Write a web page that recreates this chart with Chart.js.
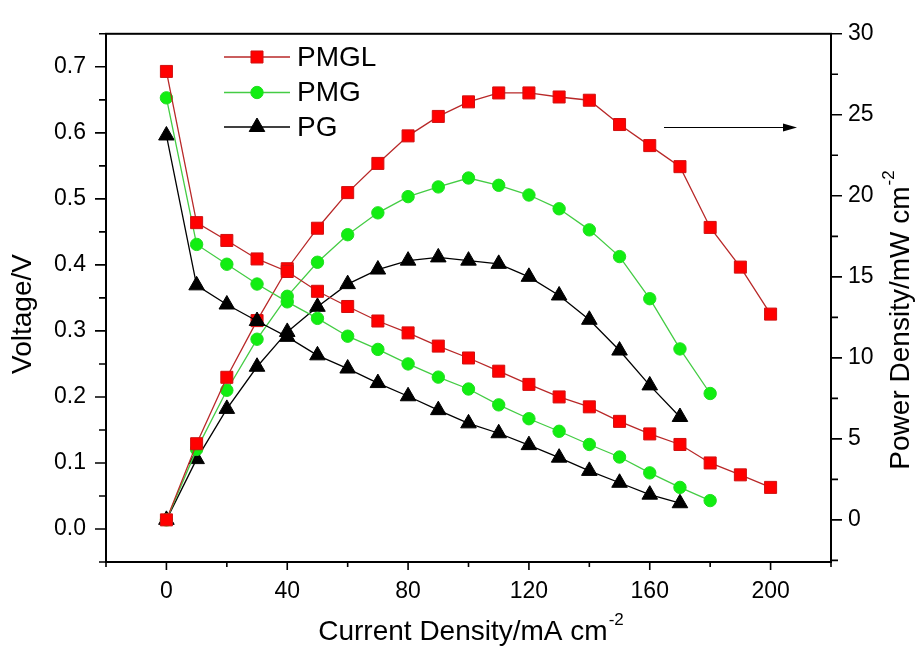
<!DOCTYPE html>
<html lang="en">
<head>
    <meta charset="UTF-8">
    <title>Voltage and Power Density vs Current Density</title>
    <script src="https://cdn.jsdelivr.net/npm/chart.js@4.4.0/dist/chart.umd.min.js"></script>
    <style>
        body { margin: 0; background: #fff; }
        canvas { display: block; }
    </style>
</head>
<body>
    <canvas id="chart" width="919" height="656"></canvas>

    <script>
        // Current density (mA cm-2) for each sample
        const pmglCurrent = [0, 10, 20, 30, 40, 50, 60, 70, 80, 90, 100, 110, 120, 130, 140, 150, 160, 170, 180, 190, 200];
        const pmgCurrent  = [0, 10, 20, 30, 40, 50, 60, 70, 80, 90, 100, 110, 120, 130, 140, 150, 160, 170, 180];
        const pgCurrent   = [0, 10, 20, 30, 40, 50, 60, 70, 80, 90, 100, 110, 120, 130, 140, 150, 160, 170];

        // Voltage (V), left axis
        const pmglVoltage = [0.693, 0.464, 0.437, 0.409, 0.390, 0.360, 0.337, 0.315, 0.297, 0.277, 0.259, 0.239, 0.219, 0.200, 0.185, 0.163, 0.144, 0.128, 0.100, 0.082, 0.063];
        const pmgVoltage  = [0.653, 0.431, 0.401, 0.371, 0.344, 0.319, 0.292, 0.272, 0.250, 0.230, 0.212, 0.188, 0.167, 0.148, 0.128, 0.109, 0.085, 0.063, 0.043];
        const pgVoltage   = [0.596, 0.369, 0.340, 0.315, 0.291, 0.263, 0.243, 0.221, 0.201, 0.180, 0.160, 0.145, 0.127, 0.108, 0.088, 0.070, 0.052, 0.039];

        // Power density (mW cm-2), right axis
        const pmglPower = [0, 4.7, 8.8, 12.3, 15.5, 18.0, 20.2, 22.0, 23.7, 24.9, 25.8, 26.35, 26.35, 26.1, 25.9, 24.4, 23.1, 21.8, 18.05, 15.6, 12.7];
        const pmgPower  = [0, 4.35, 8.0, 11.15, 13.8, 15.9, 17.6, 18.95, 19.95, 20.55, 21.1, 20.65, 20.05, 19.2, 17.9, 16.25, 13.65, 10.55, 7.8];
        const pgPower   = [0, 3.75, 6.85, 9.45, 11.6, 13.15, 14.55, 15.45, 16.0, 16.2, 16.0, 15.8, 15.0, 13.85, 12.35, 10.45, 8.3, 6.35];

        // Tick labels
        const xTicks = [0, 40, 80, 120, 160, 200];
        const xMinorTicks = [-20, 20, 60, 100, 140, 180, 220];
        const voltTicks = [0.0, 0.1, 0.2, 0.3, 0.4, 0.5, 0.6, 0.7];
        const voltMinorTicks = [-0.05, 0.05, 0.15, 0.25, 0.35, 0.45, 0.55, 0.65, 0.75];
        const powerTicks = [0, 5, 10, 15, 20, 25, 30];
        const powerMinorTicks = [-2.5, 2.5, 7.5, 12.5, 17.5, 22.5, 27.5];

        const seriesNames = ['PMGL', 'PMG', 'PG'];

        const FONT = '"Liberation Sans", Arial, sans-serif';

        // Styles per sample
        const styles = [
            { line: '#b82828', fill: '#ff0000', edge: '#d01010', shape: 'rect', radius: 8.5 },
            { line: '#44cc44', fill: '#11ee11', edge: '#22dd22', shape: 'circle', radius: 6.2 },
            { line: '#000000', fill: '#000000', edge: '#000000', shape: 'triangle', radius: 9 }
        ];

        function points(xs, ys) {
            return xs.map((x, i) => ({ x: x, y: ys[i] }));
        }

        function makeSet(label, data, style, axis) {
            return {
                label: label,
                data: data,
                yAxisID: axis,
                borderColor: style.line,
                borderWidth: 1.3,
                backgroundColor: style.fill,
                pointBackgroundColor: style.fill,
                pointBorderColor: style.edge,
                pointBorderWidth: 1,
                pointStyle: style.shape,
                pointRadius: style.radius,
                pointHoverRadius: style.radius,
                tension: 0,
                fill: false,
                clip: false
            };
        }

        const datasets = [
            makeSet('PMGL', points(pmglCurrent, pmglVoltage), styles[0], 'y'),
            makeSet('PMG', points(pmgCurrent, pmgVoltage), styles[1], 'y'),
            makeSet('PG', points(pgCurrent, pgVoltage), styles[2], 'y'),
            makeSet('PMGL power', points(pmglCurrent, pmglPower), styles[0], 'y1'),
            makeSet('PMG power', points(pmgCurrent, pmgPower), styles[1], 'y1'),
            makeSet('PG power', points(pgCurrent, pgPower), styles[2], 'y1')
        ];

        // draws one marker, used by the legend
        function marker(ctx, style, x, y) {
            ctx.save();
            ctx.fillStyle = style.fill;
            ctx.strokeStyle = style.edge;
            ctx.lineWidth = 1;
            Chart.helpers.drawPoint(ctx, { pointStyle: style.shape, radius: style.radius, borderWidth: 1 }, x, y);
            ctx.restore();
        }

        // text with a superscript on the end
        function supText(ctx, main, sup, size) {
            ctx.font = size + 'px ' + FONT;
            const w1 = ctx.measureText(main).width;
            ctx.font = Math.round(size * 0.6) + 'px ' + FONT;
            const w2 = ctx.measureText(sup).width;
            return { w1: w1, w2: w2, total: w1 + w2 + 1 };
        }

        function drawSupText(ctx, main, sup, size, cx, cy) {
            const m = supText(ctx, main, sup, size);
            const x0 = cx - m.total / 2;
            ctx.textBaseline = 'middle';
            ctx.textAlign = 'left';
            ctx.font = size + 'px ' + FONT;
            ctx.fillText(main, x0, cy);
            ctx.font = Math.round(size * 0.6) + 'px ' + FONT;
            ctx.fillText(sup, x0 + m.w1 + 1, cy - size * 0.42);
        }

        const framePlugin = {
            id: 'frame',
            afterDraw(chart) {
                const ctx = chart.ctx;
                const a = chart.chartArea;
                const xs = chart.scales.x, yl = chart.scales.y, yr = chart.scales.y1;
                ctx.save();
                ctx.strokeStyle = '#000';
                ctx.fillStyle = '#000';

                // frame
                ctx.lineWidth = 2;
                ctx.strokeRect(a.left, a.top, a.right - a.left, a.bottom - a.top);

                // ticks
                ctx.lineWidth = 1.6;
                ctx.beginPath();
                voltTicks.forEach(v => { const p = yl.getPixelForValue(v); ctx.moveTo(a.left, p); ctx.lineTo(a.left - 11, p); });
                voltMinorTicks.forEach(v => { const p = yl.getPixelForValue(v); ctx.moveTo(a.left, p); ctx.lineTo(a.left - 7, p); });
                powerTicks.forEach(v => { const p = yr.getPixelForValue(v); ctx.moveTo(a.right, p); ctx.lineTo(a.right + 11, p); });
                powerMinorTicks.forEach(v => { const p = yr.getPixelForValue(v); ctx.moveTo(a.right, p); ctx.lineTo(a.right + 7, p); });
                xTicks.forEach(v => { const p = xs.getPixelForValue(v); ctx.moveTo(p, a.bottom); ctx.lineTo(p, a.bottom + 8); });
                xMinorTicks.forEach(v => { const p = xs.getPixelForValue(v); ctx.moveTo(p, a.bottom); ctx.lineTo(p, a.bottom + 5); });
                ctx.stroke();

                // axis titles
                drawSupText(ctx, 'Current Density/mA cm', '-2', 28, 471, 632);

                ctx.save();
                ctx.translate(23, 314);
                ctx.rotate(-Math.PI / 2);
                ctx.font = '28px ' + FONT;
                ctx.textAlign = 'center';
                ctx.textBaseline = 'middle';
                ctx.fillText('Voltage/V', 0, 0);
                ctx.restore();

                ctx.save();
                ctx.translate(901, 320);
                ctx.rotate(-Math.PI / 2);
                drawSupText(ctx, 'Power Density/mW cm', '-2', 28, 0, 0);
                ctx.restore();

                // legend
                const legendY = [57, 92.5, 127];
                seriesNames.forEach((name, i) => {
                    const st = styles[i];
                    ctx.strokeStyle = st.line;
                    ctx.lineWidth = 1.3;
                    ctx.beginPath();
                    ctx.moveTo(224, legendY[i]);
                    ctx.lineTo(290, legendY[i]);
                    ctx.stroke();
                    marker(ctx, st, 257, legendY[i]);
                    ctx.fillStyle = '#000';
                    ctx.font = '28px ' + FONT;
                    ctx.textAlign = 'left';
                    ctx.textBaseline = 'middle';
                    ctx.fillText(name, 297, legendY[i] + 1);
                });

                // arrow pointing to the power axis
                ctx.strokeStyle = '#000';
                ctx.fillStyle = '#000';
                ctx.lineWidth = 1;
                ctx.beginPath();
                ctx.moveTo(664, 127.5);
                ctx.lineTo(786, 127.5);
                ctx.stroke();
                ctx.beginPath();
                ctx.moveTo(797, 127.5);
                ctx.lineTo(783, 123.5);
                ctx.lineTo(783, 131.5);
                ctx.closePath();
                ctx.fill();

                ctx.restore();
            }
        };

        new Chart(document.getElementById('chart'), {
            type: 'line',
            data: { datasets: datasets },
            options: {
                responsive: false,
                animation: false,
                devicePixelRatio: 1,
                layout: { padding: { top: 24, left: 0, right: 0, bottom: 0 } },
                plugins: { legend: { display: false }, tooltip: { enabled: false } },
                scales: {
                    x: {
                        type: 'linear',
                        min: -20,
                        max: 220,
                        afterBuildTicks: s => { s.ticks = xTicks.map(v => ({ value: v })); },
                        afterFit: s => { s.height = 94; },
                        grid: { display: false, drawTicks: false },
                        border: { display: false },
                        ticks: { padding: 16, color: '#000', font: { size: 23, family: FONT } }
                    },
                    y: {
                        type: 'linear',
                        position: 'left',
                        min: -0.05,
                        max: 0.75,
                        afterBuildTicks: s => { s.ticks = voltTicks.map(v => ({ value: v })); },
                        afterFit: s => { s.width = 106; },
                        grid: { display: false, drawTicks: false },
                        border: { display: false },
                        ticks: { padding: 20, color: '#000', font: { size: 23, family: FONT }, callback: v => v.toFixed(1) }
                    },
                    y1: {
                        type: 'linear',
                        position: 'right',
                        min: -2.6,
                        max: 30,
                        afterBuildTicks: s => { s.ticks = powerTicks.map(v => ({ value: v })); },
                        afterFit: s => { s.width = 88; },
                        grid: { display: false, drawTicks: false },
                        border: { display: false },
                        ticks: { padding: 17, color: '#000', font: { size: 23, family: FONT }, callback: v => String(v) }
                    }
                }
            },
            plugins: [framePlugin]
        });
    </script>
</body>
</html>
